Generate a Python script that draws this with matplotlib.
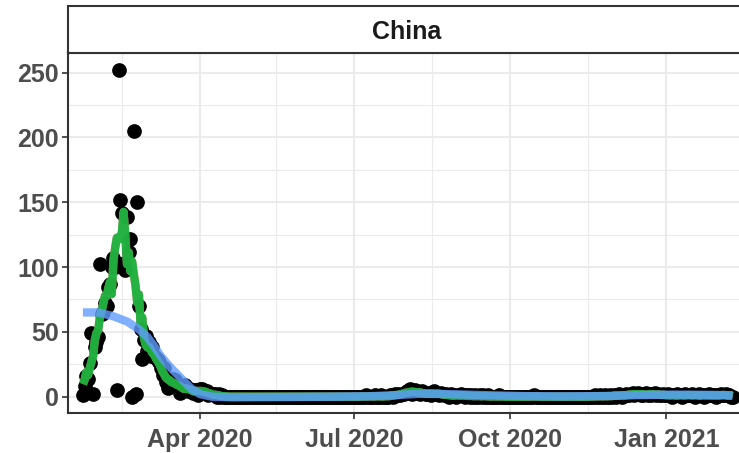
import numpy as np
import pandas as pd
import matplotlib
matplotlib.use("Agg")
import matplotlib.pyplot as plt
import matplotlib.dates as mdates

# ---------------- data ----------------
start_date = "2020-01-23"
deaths_2020_01 = [1, 8, 16, 14, 26, 49, 2, 38, 42]  # Jan 23 - Jan 31
deaths_2020_02 = [46, 102, 64, 65, 72, 70, 85, 87, 100, 107, 100, 5, 252, 152, 142,
                  103, 98, 139, 112, 122, 0, 205, 2, 150, 70, 52, 29, 44, 47]
deaths_2020_03 = [35, 42, 31, 38, 31, 30, 28, 27, 22, 17, 22, 11, 7, 13, 10, 14,
                  13, 11, 8, 3, 7, 6, 9, 7, 4, 6, 5, 3, 5, 5, 1]
deaths_2020_04 = [6, 6, 4, 4, 4, 1, 2, 2, 2, 2, 0, 2, 0, 1, 0, 0, 0, 0, 0, 0,
                  0, 0, 0, 0, 0, 0, 0, 0, 0, 0]
deaths_2020_05 = [0] * 31
deaths_2020_06 = [0] * 30
deaths_2020_07 = [0, 0, 0, 0, 0, 0, 0, 1, 0, 0, 0, 0, 1, 0, 0, 0, 1, 0, 0, 0,
                  0, 1, 1, 0, 2, 1, 2, 1, 2, 2, 3]
deaths_2020_08 = [4, 3, 6, 2, 3, 5, 4, 3, 2, 4, 3, 2, 2, 3, 1, 2, 4, 3, 2, 1,
                  3, 2, 1, 2, 1, 0, 2, 1, 1, 0, 1]
deaths_2020_09 = [1, 2, 1, 0, 1, 1, 0, 1, 0, 1, 0, 0, 1, 0, 1, 0, 0, 1, 0, 0,
                  0, 0, 0, 1, 0, 0, 0, 0, 0, 0]
deaths_2020_10 = [0, 0, 0, 0, 0, 0, 0, 0, 0, 0, 0, 0, 0, 0, 1, 0, 0, 0, 0, 0,
                  0, 0, 0, 0, 0, 0, 0, 0, 0, 0, 0]
deaths_2020_11 = [0, 0, 0, 0, 0, 0, 0, 0, 0, 0, 0, 0, 0, 0, 0, 0, 0, 0, 0, 1,
                  0, 0, 1, 0, 0, 1, 0, 0, 1, 0]
deaths_2020_12 = [1, 0, 1, 2, 1, 0, 1, 2, 1, 1, 2, 3, 1, 2, 3, 2, 1, 1, 2, 3,
                  1, 2, 1, 2, 3, 1, 2, 1, 1, 2, 1]
deaths_2021_01 = [1, 2, 1, 0, 1, 1, 2, 1, 1, 0, 1, 2, 1, 1, 1, 2, 1, 0, 1, 2,
                  1, 1, 0, 1, 1, 2, 1, 1, 1, 0, 1]
deaths_2021_02 = [1, 2, 1, 1, 2, 1, 1, 0, 0]

# smooth trend (blue curve)
trend_dates = ["2020-01-23", "2020-02-01", "2020-02-10", "2020-02-18", "2020-02-25",
               "2020-03-01", "2020-03-05", "2020-03-09", "2020-03-15", "2020-03-21",
               "2020-03-27", "2020-04-01", "2020-04-08", "2020-04-20", "2020-05-20",
               "2020-06-20", "2020-07-10", "2020-07-25", "2020-08-08", "2020-08-25",
               "2020-09-15", "2020-10-10", "2020-11-01", "2020-11-25", "2020-12-15",
               "2021-01-05", "2021-01-25", "2021-02-09"]
trend_values = [65, 65, 62, 58, 52, 46, 39, 31, 22, 14, 6, 2, 0, -0.5, -0.3,
                0, 0.3, 1.2, 2.2, 2.0, 1.2, 0.4, 0.2, 0.5, 1.2, 1.6, 1.4, 1.1]

facet_title = "China"
x_tick_dates = ["2020-04-01", "2020-07-01", "2020-10-01", "2021-01-01"]
x_tick_labels = ["Apr 2020", "Jul 2020", "Oct 2020", "Jan 2021"]
x_minor_dates = ["2020-02-15", "2020-05-16", "2020-08-16", "2020-11-16", "2021-02-15"]
y_ticks = [0, 50, 100, 150, 200, 250]
y_minor = [25, 75, 125, 175, 225]

# ---------------- derived ----------------
daily = (deaths_2020_01 + deaths_2020_02 + deaths_2020_03 + deaths_2020_04 +
         deaths_2020_05 + deaths_2020_06 + deaths_2020_07 + deaths_2020_08 +
         deaths_2020_09 + deaths_2020_10 + deaths_2020_11 + deaths_2020_12 +
         deaths_2021_01 + deaths_2021_02)
dates = pd.date_range(start_date, periods=len(daily), freq="D")
series = pd.Series(daily, index=dates, dtype=float)
rolling = series.rolling(7, center=True, min_periods=1).mean()
trend_x = pd.to_datetime(trend_dates)

# ---------------- figure ----------------
W, H = 739, 453
fig = plt.figure(figsize=(W / 100, H / 100), dpi=100)
fig.patch.set_facecolor("white")

px_left, px_right, px_top, px_bottom = 68, 745, 53, 413
ax = fig.add_axes([px_left / W, (H - px_bottom) / H,
                   (px_right - px_left) / W, (px_bottom - px_top) / H])

grid_col = "#EBEBEB"
ax.set_axisbelow(True)
for d in x_minor_dates:
    ax.axvline(pd.Timestamp(d), color=grid_col, lw=0.8, zorder=0)
for v in y_minor:
    ax.axhline(v, color=grid_col, lw=0.8, zorder=0)
for d in x_tick_dates:
    ax.axvline(pd.Timestamp(d), color=grid_col, lw=1.5, zorder=0)
for v in y_ticks:
    ax.axhline(v, color=grid_col, lw=1.5, zorder=0)

ax.scatter(series.index, series.values, s=112, color="black", zorder=3,
           linewidths=0)
ax.plot(rolling.index, rolling.values, color="#F8766D", lw=6, alpha=0.85,
        solid_capstyle="butt", zorder=4)
ax.plot(rolling.index, rolling.values, color="#00BA38", lw=6, alpha=0.85,
        solid_capstyle="butt", zorder=5)
ax.plot(trend_x, trend_values, color="#619CFF", lw=6, alpha=0.8,
        solid_capstyle="butt", zorder=6)

ax.set_xlim(pd.Timestamp("2020-01-14 05:00"), pd.Timestamp("2021-02-16 07:00"))
ax.set_ylim(-12.6, 265.2)

ax.set_xticks(pd.to_datetime(x_tick_dates))
ax.set_xticklabels(x_tick_labels)
ax.set_yticks(y_ticks)
ax.set_yticklabels([str(v) for v in y_ticks])

for lab in ax.get_xticklabels() + ax.get_yticklabels():
    lab.set_fontfamily("Liberation Sans")
    lab.set_fontweight("bold")
    lab.set_fontsize(18)
    lab.set_color("#4D4D4D")

ax.tick_params(axis="both", length=4.5, width=1.2, color="#333333")
ax.tick_params(axis="y", pad=2)
ax.tick_params(axis="x", pad=6)

for sp in ax.spines.values():
    sp.set_color("#333333")
    sp.set_linewidth(1.5)

# strip
sax = fig.add_axes([px_left / W, (H - px_top) / H,
                    (px_right - px_left) / W, 47 / H])
sax.set_xticks([])
sax.set_yticks([])
sax.set_facecolor("white")
for sp in sax.spines.values():
    sp.set_color("#333333")
    sp.set_linewidth(1.5)
sax.text(0.5, 0.44, facet_title, ha="center", va="center",
         fontfamily="Liberation Sans", fontweight="bold", fontsize=18,
         color="#1A1A1A", transform=sax.transAxes)

fig.savefig("out.png", dpi=100)
